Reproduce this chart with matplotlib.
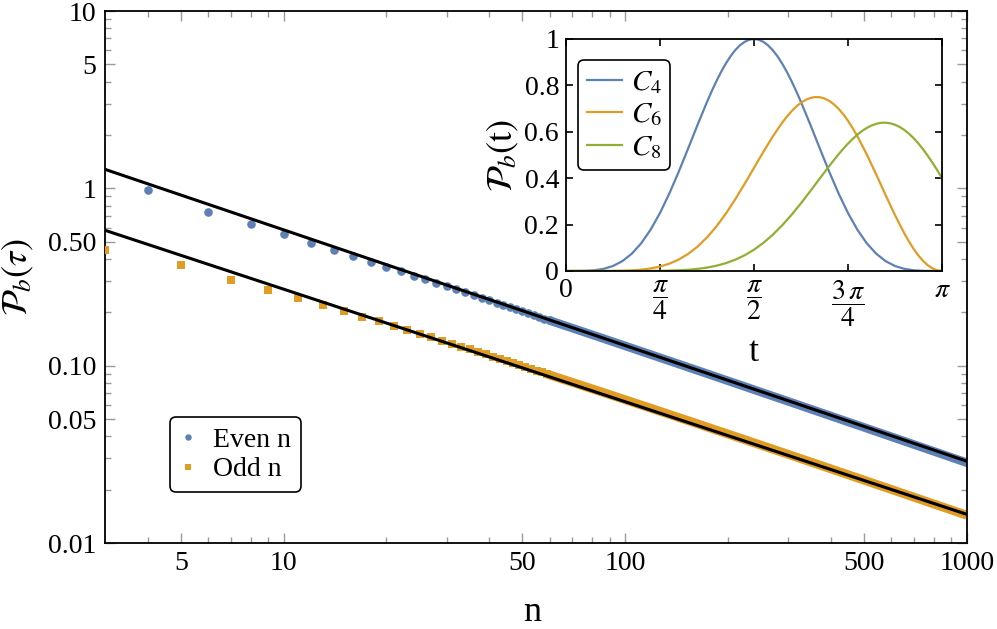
import matplotlib
matplotlib.use('Agg')
import matplotlib.pyplot as plt
import matplotlib.ticker as ticker
import numpy as np

plt.rcParams['font.family'] = ['Liberation Serif', 'DejaVu Serif']
plt.rcParams['mathtext.fontset'] = 'stix'

blue = '#5E81B5'
orange = '#E19C24'
green = '#8FB032'
tick_gray = '#9a9a9a'

# main plot: individual points (small n)
even_n = list(range(4, 62, 2))
even_p = [0.985, 0.739, 0.630, 0.5514, 0.4941, 0.4499, 0.4146, 0.3856, 0.3612,
          0.3404, 0.3224, 0.3066, 0.2927, 0.2802, 0.2690, 0.2589, 0.2496, 0.2412,
          0.2334, 0.2263, 0.2196, 0.2135, 0.2077, 0.2023, 0.1973, 0.1926, 0.1881,
          0.1839, 0.1799]
odd_n = list(range(3, 61, 2))
odd_p = [0.447, 0.368, 0.303, 0.266, 0.240, 0.2196, 0.2029, 0.1891, 0.1775,
         0.1675, 0.1588, 0.1512, 0.1445, 0.1385, 0.1330, 0.1281, 0.1237, 0.1195,
         0.1158, 0.1123, 0.1091, 0.1060, 0.1032, 0.1006, 0.0981, 0.0958, 0.0936,
         0.0916, 0.0896]

# dense part (markers merge into a band) read at a few n
even_tail_n = [60, 80, 100, 150, 200, 300, 500, 700, 1000]
even_tail_p = [0.1799, 0.1494, 0.1292, 0.09916, 0.08210, 0.06287, 0.04487, 0.03591, 0.02835]
odd_tail_n = [59, 79, 99, 149, 199, 299, 499, 699, 999]
odd_tail_p = [0.0896, 0.07461, 0.06465, 0.04975, 0.04127, 0.03167, 0.02264, 0.01814, 0.01434]

# fitted power laws (end points)
fit_n = [3, 1000]
even_fit = [1.28, 0.0289]
odd_fit = [0.58, 0.0145]

# inset: t = k*pi/40
c4_k = list(range(0, 16)) + [15.5, 16, 16.5, 17, 17.5, 18, 18.5, 19, 19.5, 20,
                             20.5, 21, 21.5, 22, 22.5, 23, 23.5, 24, 24.5] + list(range(25, 41))
c4 = [0, 0.00004, 0.0006, 0.00297, 0.00912, 0.02145, 0.04248, 0.07453, 0.11936, 0.1779,
      0.25, 0.33434, 0.42838, 0.52853, 0.63026, 0.72855,
      0.77475, 0.81814, 0.85809, 0.89397, 0.92533, 0.95166, 0.97257, 0.98772, 0.99692, 1.0,
      0.99692, 0.98772, 0.97257, 0.95166, 0.92533, 0.89397, 0.85809, 0.81814, 0.77475,
      0.72855, 0.63026, 0.52853, 0.42838, 0.33434,
      0.25, 0.1779, 0.11936, 0.07453, 0.04248, 0.02145, 0.00912, 0.00297, 0.0006, 0.00004, 0]
c6_k = list(range(0, 24)) + [23.5, 24, 24.5, 25, 25.5, 26, 26.5, 27, 27.5, 28, 28.5,
                             29, 29.5, 30, 30.5] + list(range(31, 37)) + [36.5, 37, 37.5,
                                                                         38, 38.5, 39, 39.5, 40]
c6 = [0, 0.0, 0.000002, 0.00002, 0.0001, 0.00038, 0.00109, 0.00264, 0.0056, 0.01076,
      0.01906, 0.03158, 0.04943, 0.07367, 0.1052, 0.14457, 0.19194, 0.24693, 0.30853, 0.37512,
      0.44444, 0.51375, 0.57983, 0.63933,
      0.66553, 0.68885, 0.70886, 0.72525, 0.7377, 0.74596, 0.74974, 0.74897, 0.74353, 0.73338,
      0.71856, 0.69918, 0.67542, 0.64761, 0.61594,
      0.58095, 0.50252, 0.41646, 0.32757, 0.24091, 0.16156,
      0.12612, 0.09423, 0.06637, 0.04297, 0.02439, 0.01091, 0.00274, 0]
c8_k = list(range(0, 30)) + [29.5, 30, 30.5, 31, 31.5, 32, 32.5, 33, 33.5, 34, 34.5, 35, 35.5,
                             36, 36.5, 37, 37.5, 38, 38.5, 39, 39.5, 40]
c8 = [0, 0, 0, 0.0000001, 0.0000006, 0.0000037, 0.0000155, 0.0000513, 0.000144, 0.000354,
      0.000784, 0.001593, 0.003014, 0.005365, 0.009056, 0.014591, 0.022558, 0.033603, 0.048396, 0.067581,
      0.091718, 0.121216, 0.15626, 0.196755, 0.242256, 0.291949, 0.344624, 0.398697, 0.452252, 0.503126,
      0.526834, 0.549005, 0.569344, 0.587579, 0.603431, 0.616653, 0.627026, 0.634355, 0.638473,
      0.639245, 0.636574, 0.630445, 0.620827, 0.60779, 0.591413, 0.571832, 0.549249, 0.523895,
      0.496041, 0.466014, 0.434152, 0.400852]

fig = plt.figure(figsize=(9.97, 6.29), dpi=100)
ax = fig.add_axes([0.1053, 0.1367, 0.8646, 0.8458])

ax.plot(even_tail_n, even_tail_p, '-', color=blue, lw=6.2, solid_capstyle='round', zorder=2)
ax.plot(odd_tail_n, odd_tail_p, '-', color=orange, lw=6.4, solid_capstyle='butt', zorder=2)
ax.plot(even_n, even_p, 'o', color=blue, ms=6.2, mew=0, label='Even n', zorder=3)
ax.plot(odd_n, odd_p, 's', color=orange, ms=5.5, mew=0, label='Odd n', zorder=3)
ax.plot(fit_n, even_fit, '-', color='black', lw=2.2, zorder=4)
ax.plot(fit_n, odd_fit, '-', color='black', lw=2.2, zorder=4)

ax.set_xscale('log')
ax.set_yscale('log')
ax.set_xlim(3, 1000)
ax.set_ylim(0.01, 10)

ax.xaxis.set_major_locator(ticker.FixedLocator([5, 10, 50, 100, 500, 1000]))
ax.xaxis.set_major_formatter(ticker.FixedFormatter(['5', '10', '50', '100', '500', '1000']))
ax.xaxis.set_minor_locator(ticker.FixedLocator([4, 6, 7, 8, 9, 20, 30, 40, 60, 70, 80, 90,
                                                200, 300, 400, 600, 700, 800, 900]))
ax.xaxis.set_minor_formatter(ticker.NullFormatter())
ax.yaxis.set_major_locator(ticker.FixedLocator([0.01, 0.05, 0.1, 0.5, 1, 5, 10]))
ax.yaxis.set_major_formatter(ticker.FixedFormatter(['0.01', '0.05', '0.10', '0.50', '1', '5', '10']))
ax.yaxis.set_minor_locator(ticker.FixedLocator([0.02, 0.03, 0.04, 0.06, 0.07, 0.08, 0.09,
                                                0.2, 0.3, 0.4, 0.6, 0.7, 0.8, 0.9,
                                                2, 3, 4, 6, 7, 8, 9]))
ax.yaxis.set_minor_formatter(ticker.NullFormatter())
ax.tick_params(which='both', direction='in', top=True, right=True, color=tick_gray,
               labelsize=20, width=1)
ax.tick_params(which='major', length=7, pad=6)
ax.tick_params(which='minor', length=4)
for s in ax.spines.values():
    s.set_linewidth(1.3)

ax.set_xlabel('n', fontsize=26)
ax.xaxis.set_label_coords(0.495, -0.1)
ax.set_ylabel(r'$\mathcal{P}_b(\tau)$', fontsize=26)
ax.yaxis.set_label_coords(-0.08, 0.5)

leg = ax.legend(loc='lower left', bbox_to_anchor=(0.0754, 0.0959), borderaxespad=0,
                fontsize=20, markerscale=0.75, handlelength=0.6, handletextpad=0.6,
                borderpad=0.35, labelspacing=0.15, fancybox=True, framealpha=1)
leg.get_frame().set_edgecolor('black')
leg.get_frame().set_linewidth(1.2)

# inset
ins = fig.add_axes([0.5677, 0.5692, 0.3771, 0.3688])
ins.plot(np.array(c4_k) * np.pi / 40, c4, color=blue, lw=1.6, label=r'$C_4$')
ins.plot(np.array(c6_k) * np.pi / 40, c6, color=orange, lw=1.6, label=r'$C_6$')
ins.plot(np.array(c8_k) * np.pi / 40, c8, color=green, lw=1.6, label=r'$C_8$')
ins.set_xlim(0, np.pi)
ins.set_ylim(0, 1)
ins.set_xticks([0, np.pi / 4, np.pi / 2, 3 * np.pi / 4, np.pi])
ins.set_xticklabels(['0', r'$\dfrac{\pi}{4}$', r'$\dfrac{\pi}{2}$', r'$\dfrac{3\,\pi}{4}$', r'$\pi$'])
ins.set_yticks([0, 0.2, 0.4, 0.6, 0.8, 1])
ins.set_yticklabels(['0', '0.2', '0.4', '0.6', '0.8', '1'])
ins.tick_params(direction='in', top=True, right=True, length=5, width=1.2,
                labelsize=20, pad=5)
for s in ins.spines.values():
    s.set_linewidth(1.3)
ins.set_xlabel('t', fontsize=26)
ins.xaxis.set_label_coords(0.5, -0.28)
ins.set_ylabel(r'$\mathcal{P}_b(\mathrm{t})$', fontsize=26)
ins.yaxis.set_label_coords(-0.12, 0.5)
leg2 = ins.legend(loc='upper left', bbox_to_anchor=(0.032, 0.909), borderaxespad=0,
                  fontsize=21, handlelength=1.2, handletextpad=0.3, borderpad=0.3,
                  labelspacing=0.2, fancybox=True, framealpha=1)
leg2.get_frame().set_edgecolor('black')
leg2.get_frame().set_linewidth(1.2)

fig.savefig('out.png', dpi=100)
